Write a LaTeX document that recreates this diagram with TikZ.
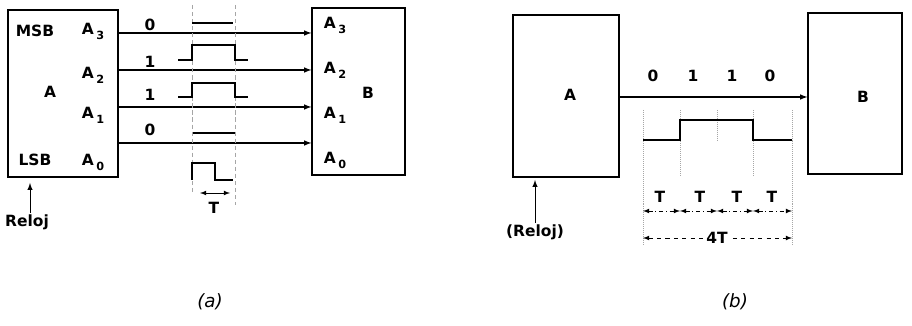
\documentclass[tikz,border=0pt]{standalone}
\usepackage{fontspec}
\setmainfont{DejaVu Sans}
\usetikzlibrary{arrows,positioning,calc}
\newcommand{\subidx}[1]{\,\raisebox{-0.6ex}{\footnotesize #1}}

\begin{document}
\begin{tikzpicture}[x=0.025cm, y=-0.025cm, >=latex,
  blk/.style={draw, line width=0.9pt, inner sep=0pt},
  lbl/.style={font=\bfseries\fontsize{11}{13}\selectfont, inner sep=1pt},
  sig/.style={line width=0.8pt, ->},
  wave/.style={line width=1.4pt},
  guide/.style={densely dashed, gray!70, line width=0.4pt},
  dimline/.style={<->, line width=0.5pt}]
\useasboundingbox (0,0) rectangle (912,326);
% (a) parallel
\node[blk, minimum width=2.75cm, minimum height=4.175cm] (srcA) at (63,93.5) {};
\node[blk, minimum width=2.325cm, minimum height=4.175cm] (dstA) at (358.5,91.5) {};
\node[lbl] (msb) at (35,31) {MSB};
\node[lbl] (lsb) at (35,160) {LSB};
\node[lbl] (nameA) at (50,92) {A};
\node[lbl] (nameB) at (368,93) {B};
\foreach \n/\ya/\yb in {3/31/25,2/75/70,1/115/115,0/162/160}{
  \node[lbl] (sa\n) at (93,\ya) {A\subidx{\n}};
  \node[lbl] (da\n) at (335,\yb) {A\subidx{\n}};
}
\foreach \n/\y/\b/\yb in {3/33/0/25,2/70/1/62,1/107/1/95,0/143/0/130}{
  \coordinate (row\n) at (0,\y);
  \draw[sig] (srcA.east |- row\n) -- (dstA.west |- row\n);
  \node[lbl] (bit\n) at (150,\yb) {\b};
}
\draw[guide] (192,5) -- (192,192);
\draw[guide] (235,5) -- (235,205);
\draw[wave] (192,23) -- (233,23);
\draw[wave] (178,60) -- (192,60) -- (192,45) -- (235,45) -- (235,60) -- (248,60);
\draw[wave] (178,97) -- (192,97) -- (192,83) -- (235,83) -- (235,97) -- (248,97);
\draw[wave] (193,133) -- (235,133);
\draw[wave] (192,180) -- (192,163) -- (215,163) -- (215,180) -- (233,180);
\coordinate (tl) at (200,193);
\coordinate (tr) at (230,193);
\draw[dimline] (tl) -- (tr);
\node[lbl] (perA) at (214,208) {T};
\coordinate (clkAtip) at (30,183);
\node[lbl] (clkA) at (27,222) {Reloj};
\draw[line width=0.7pt, ->] (clkA.north -| clkAtip) -- (clkAtip);
\node[font=\fontsize{13}{15}\selectfont\itshape] (capA) at (210,302) {(a)};
% (b) serie
\node[blk, minimum width=2.65cm, minimum height=4.05cm] (srcS) at (566,96) {};
\node[blk, minimum width=2.35cm, minimum height=4.025cm] (dstS) at (855,93.5) {};
\node[lbl] (nameS) at (570,95) {A};
\node[lbl] (nameD) at (863,97) {B};
\coordinate (line) at (0,97);
\draw[sig] (srcS.east |- line) -- (dstS.west |- line);
\foreach \x/\b [count=\i] in {653/0,693/1,732/1,770/0}
  \node[lbl] (sbit\i) at (\x,76) {\b};
\foreach \x/\l in {643/245,680/175,717/140,753/175,792/245}
  \draw[guide, densely dotted] (\x,110) -- (\x,\l);
\draw[wave] (643,140) -- (680,140) -- (680,120) -- (753,120) -- (753,140) -- (792,140);
\foreach \x/\xa/\xb [count=\i] in {660/643/680,700/680/717,737/717/753,772/753/792}{
  \node[lbl] (per\i) at (\x,197) {T};
  \coordinate (pl\i) at (\xa,211);
  \coordinate (pr\i) at (\xb,211);
  \draw[dimline, dash dot] (pl\i) -- (pr\i);
}
\coordinate (fl) at (643,238);
\coordinate (fr) at (792,238);
\draw[dimline, dashed] (fl) -- (fr);
\node[lbl, fill=white, inner sep=2pt] (fourT) at (717,238) {4T};
\coordinate (clkStip) at (535,180);
\node[lbl] (clkS) at (535,232) {(Reloj)};
\draw[line width=0.7pt, ->] (clkS.north -| clkStip) -- (clkStip);
\node[font=\fontsize{13}{15}\selectfont\itshape] (capB) at (735,302) {(b)};
\end{tikzpicture}
\end{document}
